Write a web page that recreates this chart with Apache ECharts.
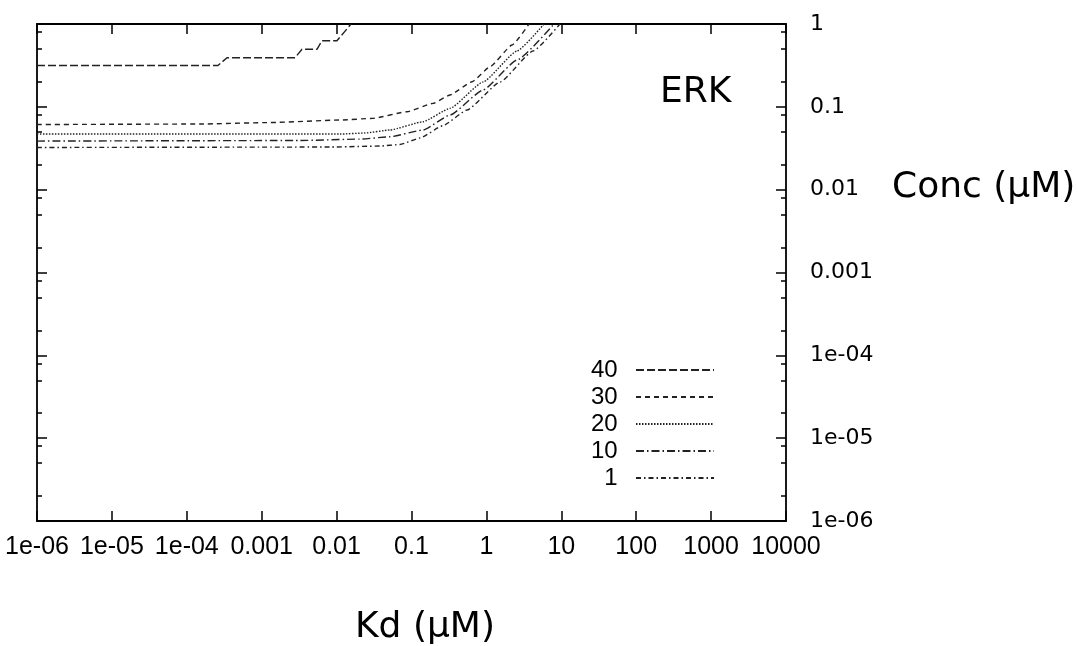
<!DOCTYPE html>
<html>
<head>
<meta charset="utf-8">
<script src="https://cdn.jsdelivr.net/npm/echarts@6/dist/echarts.min.js"></script>
<style>
html,body{margin:0;padding:0;background:#fff;}
#chart{width:1078px;height:646px;}
</style>
</head>
<body>
<div id="chart"></div>
<script>
// ---- data ----
const seriesNames = ['40', '30', '20', '10', '1'];

const kd40 = [1e-6, 2.61e-4, 3.44e-4, 2.79e-3, 3.45e-3, 5.47e-3, 6.38e-3, 0.0101, 0.0156];
const conc40 = [0.315, 0.315, 0.392, 0.392, 0.495, 0.495, 0.628, 0.628, 1.0];

const kd30 = [1e-6, 1.5e-4, 1.29e-3, 0.0111, 0.0306, 0.0871, 0.194, 0.327, 0.643, 1.12, 2.20, 3.71];
const conc30 = [0.0611, 0.0620, 0.0646, 0.0693, 0.0726, 0.0873, 0.110, 0.139, 0.201, 0.305, 0.557, 1.0];

const kd20 = [1e-6, 0.0111, 0.0239, 0.0516, 0.1426, 0.327, 0.902, 2.56, 5.87];
const conc20 = [0.0469, 0.0469, 0.0483, 0.0525, 0.0661, 0.0959, 0.1994, 0.472, 1.0];

const kd10 = [1e-6, 3.24e-3, 0.0205, 0.0516, 0.1426, 0.327, 0.902, 2.56, 8.0];
const conc10 = [0.0386, 0.0392, 0.0408, 0.0435, 0.0525, 0.0796, 0.1596, 0.367, 1.0];

const kd1 = [1e-6, 8.17e-3, 0.0379, 0.0701, 0.1297, 0.264, 0.551, 1.52, 4.19, 9.6];
const conc1 = [0.0323, 0.0327, 0.0336, 0.0351, 0.0420, 0.0594, 0.0915, 0.1994, 0.472, 1.0];

const xTickValues = [1e-6, 1e-5, 1e-4, 1e-3, 1e-2, 1e-1, 1, 10, 100, 1000, 10000];
const xTickLabels = ['1e-06', '1e-05', '1e-04', '0.001', '0.01', '0.1', '1', '10', '100', '1000', '10000'];
const yTickValues = [1e-6, 1e-5, 1e-4, 1e-3, 1e-2, 1e-1, 1];
const yTickLabels = ['1e-06', '1e-05', '1e-04', '0.001', '0.01', '0.1', '1'];
const yMinorValues = [2e-6, 5e-6, 8e-6, 2e-5, 5e-5, 8e-5, 2e-4, 5e-4, 8e-4,
                      2e-3, 5e-3, 8e-3, 2e-2, 5e-2, 8e-2, 0.2, 0.5, 0.8];

const xTitle = 'Kd (μM)';
const yTitle = 'Conc (μM)';
const panelTitle = 'ERK';

// ---- chart ----
const pair = (xs, ys) => xs.map((x, i) => [x, ys[i]]);
const kdList = [kd40, kd30, kd20, kd10, kd1];
const concList = [conc40, conc30, conc20, conc10, conc1];
const dashes = [[8, 3], [5, 4], [1.5, 1.5], [8, 3, 1.5, 3], [5, 3, 1.5, 3]];

const BLACK = '#000';
const lineW = 1.8;
function xLbl(v) { return xTickLabels[Math.round(Math.log10(v)) + 6]; }
function yLbl(v) { return yTickLabels[Math.round(Math.log10(v)) + 6]; }

function xAx(pos, labels) {
  return {
    type: 'log', logBase: 10, min: 1e-6, max: 1e4, position: pos, gridIndex: 0,
    axisLine: { show: true, lineStyle: { color: BLACK, width: lineW } },
    axisTick: { show: true, inside: true, length: 10, customValues: xTickValues,
                lineStyle: { color: BLACK, width: 1.5 } },
    axisLabel: labels ? { show: true, customValues: xTickValues, formatter: xLbl,
                fontFamily: 'Liberation Sans', fontSize: 25, color: BLACK, margin: 14 } : { show: false },
    splitLine: { show: false }, minorTick: { show: false }
  };
}
function yAx(pos, vals, len, labels, line) {
  return {
    type: 'log', logBase: 10, min: 1e-6, max: 1, position: pos, gridIndex: 0,
    axisLine: { show: line, lineStyle: { color: BLACK, width: lineW } },
    axisTick: { show: true, inside: true, length: len, customValues: vals,
                lineStyle: { color: BLACK, width: 1.5 } },
    axisLabel: labels ? { show: true, customValues: yTickValues, formatter: yLbl,
                fontFamily: 'DejaVu Sans', fontSize: 22, color: BLACK, margin: 24, align: 'left' } : { show: false },
    splitLine: { show: false }, minorTick: { show: false }
  };
}

const chart = echarts.init(document.getElementById('chart'), null, { renderer: 'canvas' });
chart.setOption({
  backgroundColor: '#fff',
  animation: false,
  grid: { left: 37, right: 292, top: 24, bottom: 125, containLabel: false, outerBoundsMode: 'none' },
  xAxis: [xAx('bottom', true), xAx('top', false)],
  yAxis: [
    yAx('right', yTickValues, 10, true, true),
    yAx('right', yMinorValues, 5, false, false),
    yAx('left', yTickValues, 10, false, true),
    yAx('left', yMinorValues, 5, false, false)
  ],
  legend: {
    orient: 'vertical', align: 'right', right: 358, top: 353,
    itemWidth: 78, itemHeight: 14, itemGap: 3, padding: 5,
    data: seriesNames,
    formatter: n => n + '  ',
    itemStyle: { opacity: 0, borderWidth: 0 },
    textStyle: { fontFamily: 'Liberation Sans', fontSize: 24, color: BLACK, lineHeight: 21 }
  },
  series: seriesNames.map((n, i) => ({
    name: n, type: 'line', xAxisIndex: 0, yAxisIndex: 0,
    data: pair(kdList[i], concList[i]),
    symbol: 'none', smooth: i === 0 ? false : 0.15, smoothMonotone: 'x',
    lineStyle: { color: '#222', width: 1.4, type: dashes[i] },
    itemStyle: { color: '#222' },
    clip: true
  })),
  graphic: [
    { type: 'text', left: 660, top: 75,
      style: { text: panelTitle, fontFamily: 'DejaVu Sans', fontSize: 36, fill: BLACK } },
    { type: 'text', left: 892, top: 170,
      style: { text: yTitle, fontFamily: 'DejaVu Sans', fontSize: 36, fill: BLACK } },
    { type: 'text', left: 355, top: 610,
      style: { text: xTitle, fontFamily: 'DejaVu Sans', fontSize: 36, fill: BLACK } }
  ]
});
</script>
</body>
</html>
